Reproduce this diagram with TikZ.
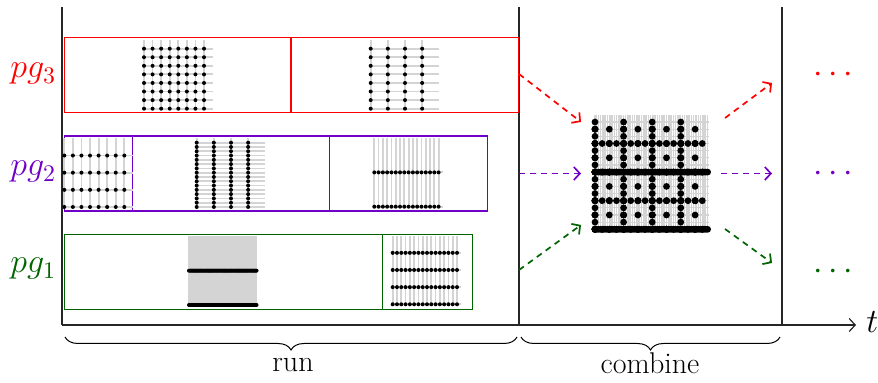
\RequirePackage{fix-cm}
\documentclass[tikz,border=0pt]{standalone}
\usepackage{fontspec}
\usetikzlibrary{decorations.pathreplacing,arrows.meta}
\definecolor{pgred}{RGB}{255,0,0}
\definecolor{pgpurple}{RGB}{112,0,200}
\definecolor{pggreen}{RGB}{0,100,0}
\definecolor{gridgray}{RGB}{212,212,212}
\newcommand{\gridL}[6]{%
  \pgfmathsetmacro\gdx{#5/#3}%
  \pgfmathsetmacro\gdy{#5/#4}%
  \foreach \gi in {1,...,#3}{\draw[draw=gridgray,line width=#6] ({#1+(\gi-1)*\gdx},#2) -- ++(0,-#5);}%
  \foreach \gj in {1,...,#4}{\draw[draw=gridgray,line width=#6] (#1,{#2-(\gj-1)*\gdy}) -- ++(#5,0);}%
}
\newcommand{\gridD}[6]{%
  \pgfmathsetmacro\gdx{#5/#3}%
  \pgfmathsetmacro\gdy{#5/#4}%
  \foreach \gi in {1,...,#3}{\foreach \gj in {1,...,#4}{\fill ({#1+(\gi-1)*\gdx},{#2-(\gj-1)*\gdy}) circle[radius=#6];}}%
}
\begin{document}
\begin{tikzpicture}[x=0.5pt,y=-0.5pt,
  axisline/.style={draw=black!85,line width=0.6pt},
  boxline/.style={line width=0.55pt},
  flow/.style={dash pattern=on 3pt off 2.5pt,line width=0.85pt,-{Straight Barb[length=3pt,width=6.5pt]}},
  lbl/.style={font=\fontsize{17}{20}\selectfont,inner sep=0pt},
  wrd/.style={font=\fontsize{15}{18}\selectfont,inner sep=0pt}]
\useasboundingbox (0,0) rectangle (878,383);
% axes
\coordinate (o) at (62,325);
\coordinate (top0) at (62,7);
\coordinate (xend) at (856,325);
\coordinate (m0) at (519,7);
\coordinate (m1) at (519,325);
\coordinate (n0) at (782,7);
\coordinate (n1) at (782,325);
\draw[axisline] (top0) -- (o);
\draw[axisline] (m0) -- (m1);
\draw[axisline] (n0) -- (n1);
\draw[axisline,-{Straight Barb[length=3pt,width=6.5pt]}] (o) -- (xend);
\node[lbl,anchor=base west] (t) at (866,333) {$t$};
% boxes
\draw[boxline,pgred] (64.5,37.5) rectangle (518.5,112.5);
\draw[boxline,pgred] (291,37.5) -- (291,112.5);
\draw[boxline,pgpurple] (64.5,136) rectangle (487.5,211);
\draw[boxline,pgpurple] (132.5,136) -- (132.5,211);
\draw[boxline,pgpurple] (329.5,136) -- (329.5,211);
\draw[boxline,pggreen] (64.5,234.5) rectangle (472.5,309.5);
\draw[boxline,pggreen] (382.5,234.5) -- (382.5,309.5);
% labels
\node[lbl,anchor=base west,text=pgred] (l3) at (10,78) {$pg_3$};
\node[lbl,anchor=base west,text=pgpurple] (l2) at (10,176) {$pg_2$};
\node[lbl,anchor=base west,text=pggreen] (l1) at (10,273) {$pg_1$};
% grids in boxes
\gridL{144}{108.7}{8}{8}{68.6}{0.9pt}\gridD{144}{108.7}{8}{8}{68.6}{1pt}
\gridL{370.7}{108.7}{4}{8}{68.6}{0.9pt}\gridD{370.7}{108.7}{4}{8}{68.6}{1pt}
\gridL{64.3}{207}{8}{4}{68.6}{0.9pt}\gridD{64.3}{207}{8}{4}{68.6}{1pt}
\gridL{196.7}{207}{4}{16}{68.6}{0.9pt}\gridD{196.7}{207}{4}{16}{68.6}{1pt}
\gridL{374.3}{206.7}{16}{2}{68.6}{0.9pt}\gridD{374.3}{206.7}{16}{2}{68.6}{1pt}
\gridL{189}{305}{64}{2}{68.6}{0.9pt}\gridD{189}{305}{64}{2}{68.6}{1pt}
\gridL{392.7}{304.3}{16}{4}{68.6}{0.9pt}\gridD{392.7}{304.3}{16}{4}{68.6}{1pt}
% combined grid
\foreach \nx/\ny in {8/8,4/8,8/4,4/16,16/2,64/2,16/4}{\gridL{595}{229.3}{\nx}{\ny}{114.4}{0.6pt}}
\foreach \nx/\ny in {8/8,4/8,8/4,4/16,16/2,64/2,16/4}{\gridD{595}{229.3}{\nx}{\ny}{114.4}{1.7pt}}
% flows
\coordinate (r1) at (519,74); \coordinate (r2) at (581,122);
\coordinate (p1) at (519,173.5); \coordinate (p2) at (581,173.5);
\coordinate (g1) at (519,270); \coordinate (g2) at (581,225);
\coordinate (r3) at (725,118); \coordinate (r4) at (772,83);
\coordinate (p3) at (721,173.5); \coordinate (p4) at (772,173.5);
\coordinate (g3) at (725,229); \coordinate (g4) at (772,263);
\draw[flow,pgred] (r1) -- (r2);
\draw[flow,pgpurple] (p1) -- (p2);
\draw[flow,pggreen] (g1) -- (g2);
\draw[flow,pgred] (r3) -- (r4);
\draw[flow,pgpurple] (p3) -- (p4);
\draw[flow,pggreen] (g3) -- (g4);
\node[lbl,anchor=base,text=pgred] (d3) at (833,83) {$\cdots$};
\node[lbl,anchor=base,text=pgpurple] (d2) at (833,181.5) {$\cdots$};
\node[lbl,anchor=base,text=pggreen] (d1) at (833,280) {$\cdots$};
% braces
\coordinate (b1) at (65,337); \coordinate (b2) at (517,337);
\coordinate (b3) at (521,337); \coordinate (b4) at (780,337);
\draw[line width=0.5pt,decorate,decoration={brace,mirror,amplitude=6.5pt}] (b1) -- (b2);
\draw[line width=0.5pt,decorate,decoration={brace,mirror,amplitude=6.5pt}] (b3) -- (b4);
\node[wrd,anchor=base] (run) at (293,372) {run};
\node[wrd,anchor=base] (comb) at (650,374) {combine};
\end{tikzpicture}
\end{document}
